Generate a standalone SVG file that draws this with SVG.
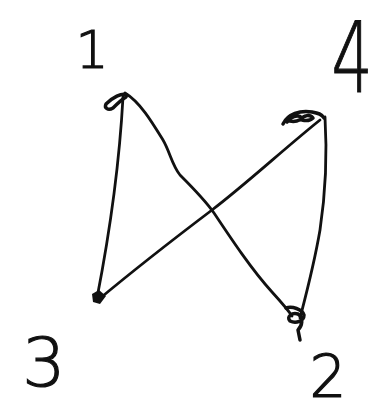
<svg xmlns="http://www.w3.org/2000/svg" width="377" height="412" viewBox="0 0 377 412">
<style>
.ln{fill:none;stroke:#111;stroke-width:2.8;stroke-linecap:round;stroke-linejoin:round}
.kn{fill:none;stroke:#111;stroke-width:3.5;stroke-linecap:round;stroke-linejoin:round}
.lb{font-family:"DejaVu Sans","Liberation Sans",sans-serif;font-weight:200;fill:#111;stroke:#111;stroke-width:1.2;text-anchor:middle}
</style>
<rect width="377" height="412" fill="#fff"/>
<g id="edges">
<path class="ln" d="M123,97 Q118,190 97,298"/>
<path class="ln" d="M125,93 C140,102 152,122 163,140 C170,152 172,165 180,175 C195,190 205,200 214,213 C232,240 252,270 272,292 C282,303 288,310 292,316"/>
<path class="ln" d="M98,300 C140,265 175,238 212,210 C245,185 285,148 320,120"/>
<path class="ln" d="M325,117 C327,150 326,190 320,230 C314,265 306,295 300,318"/>
</g>
<g id="node1">
<path class="kn" d="M127,95 C122,92 112,98 106,104 C104,108 108,111 113,108 C117,104 121,100 126,97"/>
<text class="lb" x="92" y="68" font-size="52">1</text>
</g>
<g id="node4">
<path class="kn" d="M283,124 C288,114 300,110 312,112 C318,113 322,114 324,118 M287,122 C290,117 298,114 302,118 C300,121 294,122 290,121 M300,120 C304,115 310,114 313,118 C310,121 306,121 302,120"/>
<text class="lb" x="352" y="92" font-size="98" transform="translate(352,0) scale(0.66,1) translate(-352,0)">4</text>
</g>
<g id="node3">
<path d="M92,294 L99,290 L106,296 L100,304 L93,302 Z" fill="#111"/>
<text class="lb" x="44" y="386" font-size="68">3</text>
</g>
<g id="node2">
<path class="kn" d="M286,308 C292,306 302,309 304,315 C304,321 296,324 290,321 C286,317 292,312 298,314 C304,318 302,326 298,330 L300,340"/>
<text class="lb" x="328" y="397" font-size="58">2</text>
</g>
</svg>
